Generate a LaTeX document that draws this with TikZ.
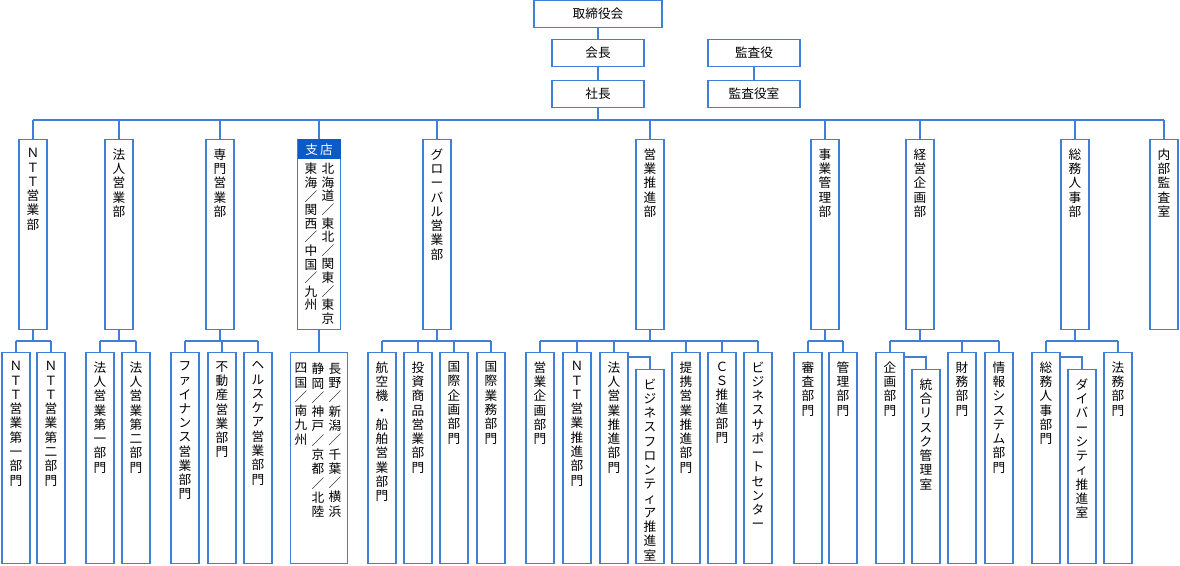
\documentclass[tikz,border=0pt]{standalone}
\usepackage{fontspec}
\setmainfont{Noto Sans CJK JP}
\usetikzlibrary{positioning}
\definecolor{bline}{HTML}{3F7FD8}
\definecolor{hdr}{HTML}{0A5BC8}
% vertical text, one character per line
\def\vtend{\vtend}
\def\vt#1{\vtA#1\vtend}
\def\vtA#1{\ifx#1\vtend\else#1\\\expandafter\vtA\fi}
\newcommand\dept[6][28]{%
  \node[box, minimum width={#1*0.75pt}, minimum height={(#5-#4)*0.75pt}, anchor=north] (#2) at (#3,#4) {};
  \node[vtxt, anchor=north] (#2-t) at ([yshift=-7pt]#2.north) {\vt{#6}};}
\begin{document}
\begin{tikzpicture}[x=0.75pt, y=-0.75pt,
    box/.style={draw=bline, line width=0.8pt, fill=white, inner sep=0pt},
    hbox/.style={box, minimum width=69pt, minimum height=20pt, font=\fontsize{9.5}{11}\selectfont},
    vtxt/.style={align=center, inner sep=0pt, font=\fontsize{9.5}{10.7}\selectfont},
    line/.style={draw=bline, line width=0.8pt}]
  \useasboundingbox (0,0) rectangle (1180,565);
  \coordinate (busA) at (0,120);
  \coordinate (busB) at (0,341);
  \coordinate (subB) at (0,357);
  % top
  \node[hbox, minimum width=96pt] (board) at (598,14) {取締役会};
  \node[hbox] (chair) at (598,53) {会長};
  \node[hbox] (pres) at (598,94) {社長};
  \node[hbox] (audit) at (754,53) {監査役};
  \node[hbox] (auditoff) at (754,94) {監査役室};
  \draw[line] (board) -- (chair);
  \draw[line] (chair) -- (pres);
  \draw[line] (audit) -- (auditoff);
  % divisions
  \dept{ntt}{33}{139}{329}{ＮＴＴ営業部}
  \dept{hojin}{119}{139}{329}{法人営業部}
  \dept{senmon}{220}{139}{329}{専門営業部}
  \node[box, minimum width={43*0.75pt}, minimum height={190*0.75pt}, anchor=north] (shiten) at (319,139) {};
  \node[fill=hdr, text=white, minimum width={43*0.75pt}, minimum height={20*0.75pt}, inner sep=0pt, anchor=north,
    font=\fontsize{9.5}{11}\selectfont] (shiten-h) at (shiten.north) {支\,店};
  \node[vtxt, anchor=north, font=\fontsize{9.5}{10.2}\selectfont] (shiten-r) at (328,163) {\vt{北海道／東北／関東／東京}};
  \node[vtxt, anchor=north, font=\fontsize{9.5}{10.2}\selectfont] (shiten-l) at (311,163) {\vt{東海／関西／中国／九州}};
  \dept{global}{437}{139}{329}{グローバル営業部}
  \dept{suishin}{650}{139}{329}{営業推進部}
  \dept{jigyo}{825}{139}{329}{事業管理部}
  \dept{keiei}{920}{139}{329}{経営企画部}
  \dept{somu}{1075}{139}{329}{総務人事部}
  \dept{naibu}{1164}{139}{329}{内部監査室}
  \draw[line] (pres) -- (pres |- busA);
  \draw[line] (ntt.north |- busA) -- (naibu.north |- busA);
  \foreach \n in {ntt,hojin,senmon,shiten,global,suishin,jigyo,keiei,somu,naibu}
    \draw[line] (\n.north) -- (\n.north |- busA);
  % sections
  \dept{ntta}{16}{352}{563}{ＮＴＴ営業第一部門}
  \dept{nttb}{51}{352}{563}{ＮＴＴ営業第二部門}
  \dept{hojina}{100}{352}{563}{法人営業第一部門}
  \dept{hojinb}{136}{352}{563}{法人営業第二部門}
  \dept{fin}{185}{352}{563}{ファイナンス営業部門}
  \dept{fudo}{222}{352}{563}{不動産営業部門}
  \dept{health}{258}{352}{563}{ヘルスケア営業部門}
  \node[box, minimum width={57*0.75pt}, minimum height={211*0.75pt}, anchor=north] (shitenb) at (319,352) {};
  \node[vtxt, anchor=north] (shitenb-a) at (335,363) {\vt{長野／新潟／千葉／横浜}};
  \node[vtxt, anchor=north] (shitenb-b) at (318,363) {\vt{静岡／神戸／京都／北陸}};
  \node[vtxt, anchor=north] (shitenb-c) at (301,363) {\vt{四国／南九州}};
  \dept{koku}{382}{352}{563}{航空機・船舶営業部門}
  \dept{toshi}{418}{352}{563}{投資商品営業部門}
  \dept{kikaku}{454}{352}{563}{国際企画部門}
  \dept{gyomu}{491}{352}{563}{国際業務部門}
  \dept{eikika}{540}{352}{563}{営業企画部門}
  \dept{nttsui}{577}{352}{563}{ＮＴＴ営業推進部門}
  \dept{hojinsui}{614}{352}{563}{法人営業推進部門}
  \dept{frontier}{650}{369}{563}{ビジネスフロンティア推進室}
  \dept{teikei}{686}{352}{563}{提携営業推進部門}
  \dept{cs}{722}{352}{563}{ＣＳ推進部門}
  \dept{support}{758}{352}{563}{ビジネスサポートセンター}
  \dept{shinsa}{808}{352}{563}{審査部門}
  \dept{kanri}{843}{352}{563}{管理部門}
  \dept{kika}{890}{352}{563}{企画部門}
  \dept{risk}{926}{369}{563}{統合リスク管理室}
  \dept{zaimu}{962}{352}{563}{財務部門}
  \dept{joho}{999}{352}{563}{情報システム部門}
  \dept{somuj}{1046}{352}{563}{総務人事部門}
  \dept{divers}{1082}{369}{563}{ダイバーシティ推進室}
  \dept{homu}{1118}{352}{563}{法務部門}
  % section lines
  \foreach \p/\a/\b in {ntt/ntta/nttb, hojin/hojina/hojinb, senmon/fin/health, global/koku/gyomu,
      suishin/eikika/support, jigyo/shinsa/kanri, keiei/kika/joho, somu/somuj/homu} {
    \draw[line] (\p.south) -- (\p.south |- busB);
    \draw[line] (\a.north |- busB) -- (\b.north |- busB);
  }
  \draw[line] (shiten) -- (shitenb);
  \foreach \n in {ntta,nttb,hojina,hojinb,fin,fudo,health,koku,toshi,kikaku,gyomu,
      eikika,nttsui,hojinsui,teikei,cs,support,shinsa,kanri,kika,zaimu,joho,somuj,homu}
    \draw[line] (\n.north) -- (\n.north |- busB);
  \draw[line] (hojinsui.east |- subB) -| (frontier.north);
  \draw[line] (kika.east |- subB) -| (risk.north);
  \draw[line] (somuj.east |- subB) -| (divers.north);
\end{tikzpicture}
\end{document}
